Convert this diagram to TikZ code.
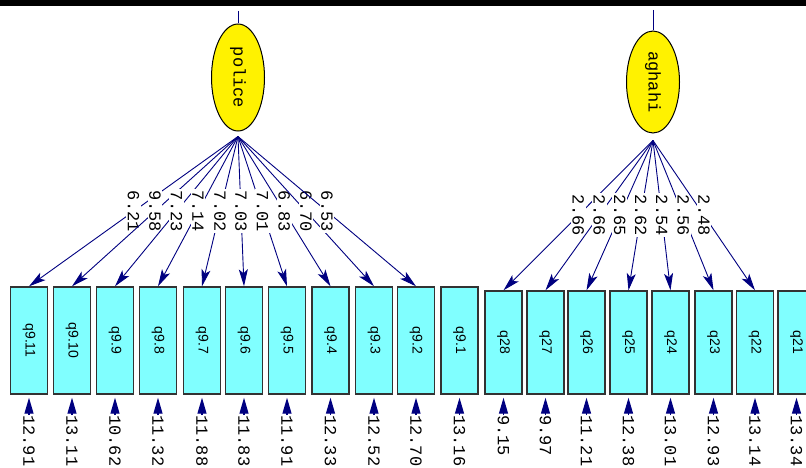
\documentclass[tikz,border=0pt]{standalone}
\usepackage{fontspec}
\usepackage{graphicx}
\usetikzlibrary{arrows.meta,shapes.geometric}
\newfontfamily\lismono{Liberation Mono}
\newfontfamily\lissans{Liberation Sans}
\newcommand{\vlbl}[1]{\rotatebox{-90}{#1}}
\definecolor{lisnavy}{RGB}{0,0,128}
\definecolor{liscyan}{RGB}{128,255,255}

\begin{document}
\begin{tikzpicture}[x=1pt,y=-1pt,
    latent/.style={ellipse,draw=black,line width=1pt,fill=yellow,minimum width=53pt,inner sep=0pt,font=\lismono\fontsize{17}{17}\selectfont},
    obs/.style={rectangle,draw=black!80,line width=1.4pt,fill=liscyan,minimum width=37pt,minimum height=107pt,inner sep=0pt,font=\lissans\fontsize{14}{14}\selectfont},
    load/.style={fill=white,text=black,rotate=-90,inner sep=1.5pt,font=\lismono\fontsize{17}{17}\selectfont},
    err/.style={rotate=-90,anchor=west,inner sep=0pt,font=\lismono\fontsize{17}{17}\selectfont},
    lpath/.style={lisnavy,line width=0.9pt,-{Stealth[length=17pt,width=9pt,inset=4pt]}},
    epath/.style={lisnavy,line width=1.2pt,-{Triangle[length=16pt,width=9pt]},shorten >=3pt}]
    \useasboundingbox (0,0) rectangle (806,468);
    \fill[black] (0,0) rectangle (806,6.5);

    %latents
    \node (police) at (238,77.5)[latent,minimum height=107pt]{\vlbl{police}};
    \node (aghahi) at (653,82)[latent,minimum height=102pt]{\vlbl{aghahi}};
    \coordinate (polup) at (238,11);
    \coordinate (aghup) at (653,10);
    \coordinate (polout) at ([yshift=-5pt]police.south);
    \coordinate (aghout) at ([yshift=-7pt]aghahi.south);
    \draw [lisnavy,line width=0.9pt] (polup) to (police.north);
    \draw [lisnavy,line width=0.9pt] (aghup) to (aghahi.north);

    %indicators q9
    \node (Q911) at (29,340.5)[obs]{\vlbl{q9.11}};
    \node (Q910) at (72,340.5)[obs]{\vlbl{q9.10}};
    \node (Q99) at (115,340.5)[obs]{\vlbl{q9.9}};
    \node (Q98) at (158,340.5)[obs]{\vlbl{q9.8}};
    \node (Q97) at (202,340.5)[obs]{\vlbl{q9.7}};
    \node (Q96) at (244,340.5)[obs]{\vlbl{q9.6}};
    \node (Q95) at (287,340.5)[obs]{\vlbl{q9.5}};
    \node (Q94) at (330.5,340.5)[obs]{\vlbl{q9.4}};
    \node (Q93) at (374,340.5)[obs]{\vlbl{q9.3}};
    \node (Q92) at (416,340.5)[obs]{\vlbl{q9.2}};
    \node (Q91) at (459.5,340.5)[obs]{\vlbl{q9.1}};

    %indicators q2
    \node (Q28) at (503.5,342.5)[obs,minimum height=103pt]{\vlbl{q28}};
    \node (Q27) at (545.5,342.5)[obs,minimum height=103pt]{\vlbl{q27}};
    \node (Q26) at (586.5,342.5)[obs,minimum height=103pt]{\vlbl{q26}};
    \node (Q25) at (628.5,342.5)[obs,minimum height=103pt]{\vlbl{q25}};
    \node (Q24) at (670.5,342.5)[obs,minimum height=103pt]{\vlbl{q24}};
    \node (Q23) at (713.5,342.5)[obs,minimum height=103pt]{\vlbl{q23}};
    \node (Q22) at (755,342.5)[obs,minimum height=103pt]{\vlbl{q22}};
    \node (Q21) at (796.5,342.5)[obs,minimum height=103pt]{\vlbl{q21}};

    %loadings police
    \draw [lpath] (polout) to node[midway,load]{6.21} (Q911.north);
    \draw [lpath] (polout) to node[midway,load]{9.58} (Q910.north);
    \draw [lpath] (polout) to node[midway,load]{7.23} (Q99.north);
    \draw [lpath] (polout) to node[midway,load]{7.14} (Q98.north);
    \draw [lpath] (polout) to node[midway,load]{7.02} (Q97.north);
    \draw [lpath] (polout) to node[midway,load]{7.03} (Q96.north);
    \draw [lpath] (polout) to node[midway,load]{7.01} (Q95.north);
    \draw [lpath] (polout) to node[midway,load]{6.83} (Q94.north);
    \draw [lpath] (polout) to node[midway,load]{6.70} (Q93.north);
    \draw [lpath] (polout) to node[midway,load]{6.53} (Q92.north);

    %loadings aghahi
    \draw [lpath] (aghout) to node[midway,load]{2.66} (Q28.north);
    \draw [lpath] (aghout) to node[midway,load]{2.66} (Q27.north);
    \draw [lpath] (aghout) to node[midway,load]{2.65} (Q26.north);
    \draw [lpath] (aghout) to node[midway,load]{2.62} (Q25.north);
    \draw [lpath] (aghout) to node[midway,load]{2.54} (Q24.north);
    \draw [lpath] (aghout) to node[midway,load]{2.56} (Q23.north);
    \draw [lpath] (aghout) to node[midway,load]{2.48} (Q22.north);

    %error variances
    \node (E911) at (29,415)[err]{12.91};
    \node (E910) at (72,415)[err]{13.11};
    \node (E99) at (115,415)[err]{10.62};
    \node (E98) at (158,415)[err]{11.32};
    \node (E97) at (202,415)[err]{11.88};
    \node (E96) at (244,415)[err]{11.83};
    \node (E95) at (287,415)[err]{11.91};
    \node (E94) at (330.5,415)[err]{12.33};
    \node (E93) at (374,415)[err]{12.52};
    \node (E92) at (416,415)[err]{12.70};
    \node (E91) at (459.5,415)[err]{13.16};
    \node (E28) at (503.5,415)[err]{9.15};
    \node (E27) at (545.5,415)[err]{9.97};
    \node (E26) at (586.5,415)[err]{11.21};
    \node (E25) at (628.5,415)[err]{12.38};
    \node (E24) at (670.5,415)[err]{13.01};
    \node (E23) at (713.5,415)[err]{12.93};
    \node (E22) at (755,415)[err]{13.14};
    \node (E21) at (796.5,415)[err]{13.34};

    \draw [epath] (E911.west) to (Q911.south);
    \draw [epath] (E910.west) to (Q910.south);
    \draw [epath] (E99.west) to (Q99.south);
    \draw [epath] (E98.west) to (Q98.south);
    \draw [epath] (E97.west) to (Q97.south);
    \draw [epath] (E96.west) to (Q96.south);
    \draw [epath] (E95.west) to (Q95.south);
    \draw [epath] (E94.west) to (Q94.south);
    \draw [epath] (E93.west) to (Q93.south);
    \draw [epath] (E92.west) to (Q92.south);
    \draw [epath] (E91.west) to (Q91.south);
    \draw [epath] (E28.west) to (Q28.south);
    \draw [epath] (E27.west) to (Q27.south);
    \draw [epath] (E26.west) to (Q26.south);
    \draw [epath] (E25.west) to (Q25.south);
    \draw [epath] (E24.west) to (Q24.south);
    \draw [epath] (E23.west) to (Q23.south);
    \draw [epath] (E22.west) to (Q22.south);
    \draw [epath] (E21.west) to (Q21.south);
  \end{tikzpicture}
\end{document}
